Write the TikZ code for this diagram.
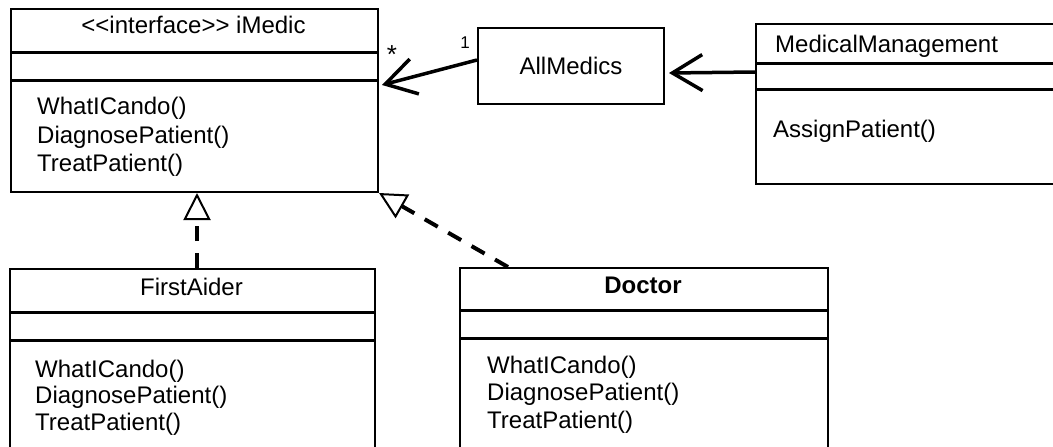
\documentclass[tikz,border=0pt]{standalone}
\usepackage{fontspec}
\setmainfont{Liberation Sans}
\usetikzlibrary{arrows.meta,calc}
\begin{document}
\begin{tikzpicture}[x=1pt,y=-1pt,
  box/.style={draw, line width=2pt, rectangle, inner sep=0pt, anchor=north west},
  sepline/.style={line width=3pt},
  txt/.style={inner sep=0pt, font=\fontsize{24}{28}\selectfont},
  small/.style={inner sep=0pt, font=\fontsize{17}{19}\selectfont},
  assoc/.style={line width=3.5pt, -{Straight Barb[length=30pt,width=36pt]}},
  realize/.style={line width=4pt, dash pattern=on 15pt off 12pt,
    -{Triangle[open, fill=white, line width=2pt, length=27pt, width=27pt]}}
]
\useasboundingbox (0,0) rectangle (1053,447);
\clip (0,0) rectangle (1053,447);

% boxes
\node[box, minimum width=367pt, minimum height=183pt] (imedic) at (10,8) {};
\node[box, minimum width=186pt, minimum height=76pt, txt] (allmedics) at (477,27) {AllMedics};
\node[box, minimum width=330pt, minimum height=160pt] (mm) at (755,23) {};
\node[box, minimum width=365pt, minimum height=200pt] (firstaider) at (9,268) {};
\node[box, minimum width=368pt, minimum height=200pt] (doctor) at (459,267) {};

% separators
\foreach \b/\o in {imedic/44, imedic/72, mm/40, mm/66, firstaider/44, firstaider/72, doctor/43, doctor/71}
  \draw[sepline] ($(\b.north west)+(0,\o)$) -- ($(\b.north east)+(0,\o)$);

% iMedic texts
\node[txt, anchor=base] (imt) at (193.5,34) {<\kern0pt<interface>\kern0pt> iMedic};
\node[txt, anchor=base west] (im1) at (37,114) {WhatICando()};
\node[txt, anchor=base west] (im2) at (37,143) {DiagnosePatient()};
\node[txt, anchor=base west] (im3) at (37,171) {TreatPatient()};

% MedicalManagement texts
\node[txt, anchor=base west] (mmt) at (775,52) {MedicalManagement};
\node[txt, anchor=base west] (mm1) at (773,137) {AssignPatient()};

% FirstAider texts
\node[txt, anchor=base] (fat) at (191.5,295) {FirstAider};
\node[txt, anchor=base west] (fa1) at (35,377) {WhatICando()};
\node[txt, anchor=base west] (fa2) at (35,403) {DiagnosePatient()};
\node[txt, anchor=base west] (fa3) at (35,430) {TreatPatient()};

% Doctor texts
\node[txt, anchor=base, font=\fontsize{24}{28}\selectfont\bfseries] (dt) at (643,293) {Doctor};
\node[txt, anchor=base west] (d1) at (487,373) {WhatICando()};
\node[txt, anchor=base west] (d2) at (487,400) {DiagnosePatient()};
\node[txt, anchor=base west] (d3) at (487,428) {TreatPatient()};

% connectors
\draw[assoc] ($(mm.north west)+(0,49)$) -- ($(allmedics.east)+(4,7)$);
\draw[assoc] ($(allmedics.west)+(0,-6)$) -- ($(imedic.north east)+(3,77)$);
\node[small, anchor=base] (one) at (465,48) {1};
\node[small, anchor=center, font=\fontsize{26}{28}\selectfont] (star) at (392,55) {*};

\draw[realize] ($(firstaider.north west)+(188,0)$) -- ($(imedic.south west)+(187,0)$);
\draw[realize] ($(doctor.north west)+(49,0)$) -- (imedic.south east);
\end{tikzpicture}
\end{document}
